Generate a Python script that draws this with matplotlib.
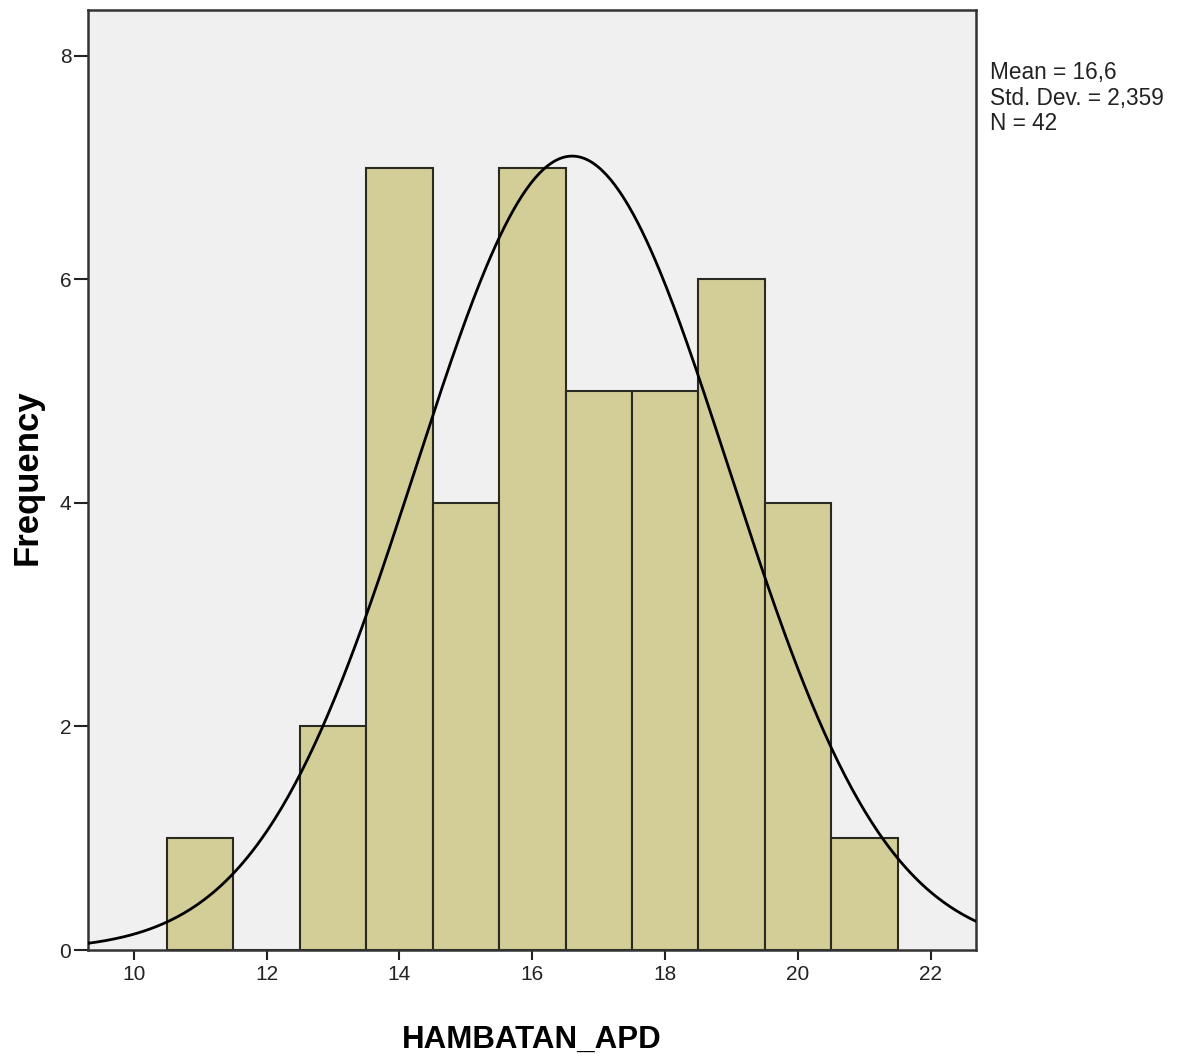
import numpy as np
import matplotlib
matplotlib.use("Agg")
import matplotlib.pyplot as plt

plt.rcParams['font.family'] = ['Liberation Sans', 'DejaVu Sans']

# Data
bin_centers = [11, 12, 13, 14, 15, 16, 17, 18, 19, 20, 21]
counts = [1, 0, 2, 7, 4, 7, 5, 5, 6, 4, 1]
bin_width = 1.0
mean = 16.6
std = 2.359
n = 42
x_ticks = [10, 12, 14, 16, 18, 20, 22]
y_ticks = [0, 2, 4, 6, 8]
x_label = "HAMBATAN_APD"
y_label = "Frequency"
stats_text = "Mean = 16,6\nStd. Dev. = 2,359\nN = 42"

W, H = 1177, 1057
fig = plt.figure(figsize=(W / 100, H / 100), dpi=100)
ax = fig.add_axes([88/W, 1 - 950/H, (976-88)/W, (950-10)/H])
ax.set_facecolor('#F0F0F0')

ax.bar(bin_centers, counts, width=bin_width, color='#D3CE98',
       edgecolor='#2a2a20', linewidth=1.5, zorder=2)

xlim = (9.31, 22.68)
xs = np.linspace(xlim[0], xlim[1], 400)
ys = n * bin_width * np.exp(-0.5 * ((xs - mean) / std) ** 2) / (std * np.sqrt(2 * np.pi))
ax.plot(xs, ys, color='black', linewidth=2, zorder=3)

ax.set_xlim(*xlim)
ax.set_ylim(0, 8.41)
ax.set_xticks(x_ticks)
ax.set_yticks(y_ticks)
ax.tick_params(axis='x', direction='out', length=7, width=1.5, labelsize=15, pad=4, colors='#222222')
ax.tick_params(axis='y', direction='out', length=10, width=1.5, labelsize=15, pad=2, colors='#222222')
for s in ax.spines.values():
    s.set_linewidth(1.8)
    s.set_color('#333333')

fig.text(532/W, 1 - 1048/H, x_label, fontsize=22.5, fontweight='bold',
         ha='center', va='baseline')
fig.text(37/W, 1 - 477/H, y_label, fontsize=25, fontweight='bold',
         rotation=90, rotation_mode='anchor', ha='center', va='baseline')

fig.text(990/W, 1 - 61/H, stats_text, fontsize=16.3, va='top', ha='left',
         linespacing=1.15, color='#222222')

fig.savefig('out.png', dpi=100)
